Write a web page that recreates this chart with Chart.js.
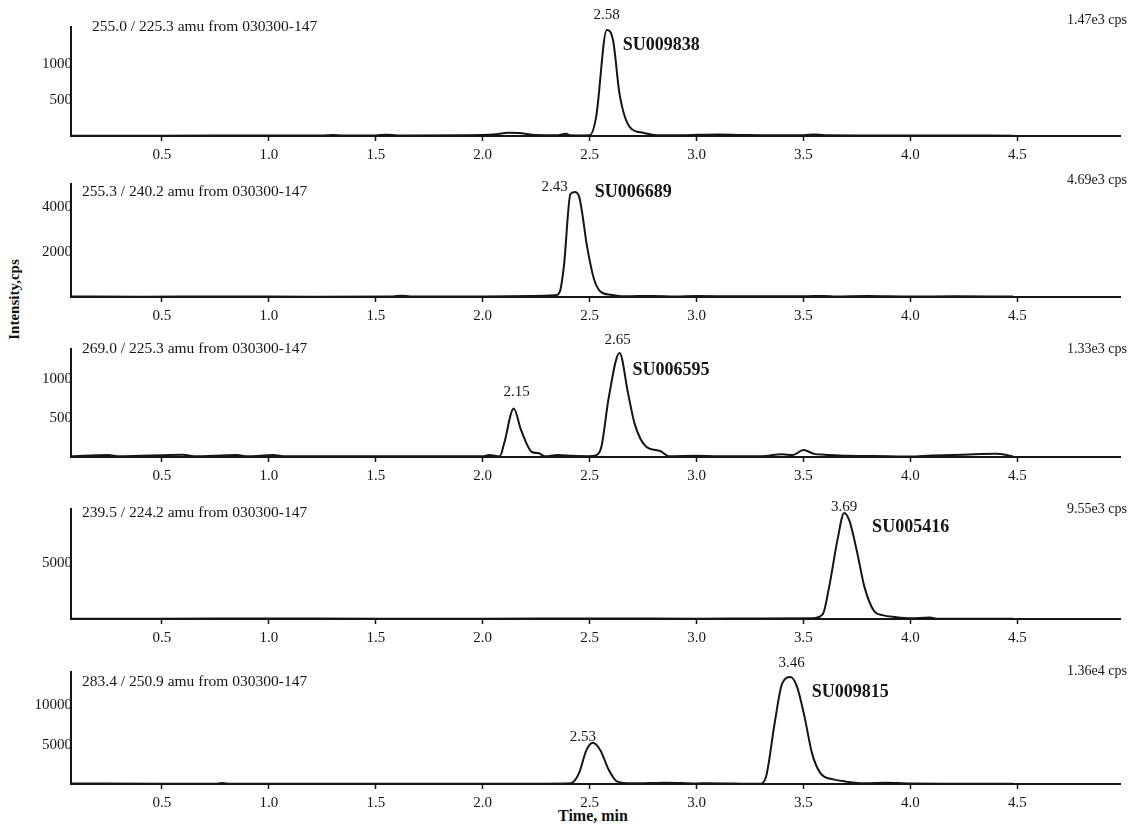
<!DOCTYPE html>
<html>
<head>
<meta charset="utf-8">
<script src="https://cdn.jsdelivr.net/npm/chart.js@4.4.1/dist/chart.umd.min.js"></script>
<style>
  body { margin: 0; background: #fff; }
  #wrap { position: relative; width: 1131px; height: 825px; overflow: hidden; }
  #wrap canvas { position: absolute; left: 0; }
  .lbl { position: absolute; font-family: "Liberation Serif", serif; font-weight: bold; color: #111; white-space: nowrap; }
</style>
</head>
<body>
<div id="wrap">
  <div class="lbl" style="left:-36px; top:291px; font-size:15px; transform: rotate(-90deg); width:100px; text-align:center;">Intensity,cps</div>
  <div class="lbl" style="left:558px; top:807px; font-size:16px;">Time, min</div>
</div>
<script>
// time axis (minutes)
let xTicks = [0.5, 1.0, 1.5, 2.0, 2.5, 3.0, 3.5, 4.0, 4.5];

// 255.0 / 225.3
let time1 = [0.075, 0.5, 1.0, 1.25, 1.3, 1.35, 1.5, 1.55, 1.6, 1.9, 2.05, 2.12, 2.17, 2.25, 2.35, 2.39, 2.41, 2.44, 2.50, 2.53, 2.58, 2.61, 2.64, 2.69, 2.75, 2.81, 2.95, 3.1, 3.2, 3.35, 3.5, 3.55, 3.6, 3.8, 4.0, 4.2, 4.48];
let cps1 = [5, 5, 8, 6, 15, 6, 8, 18, 8, 10, 20, 45, 40, 15, 12, 30, 10, 8, 10, 255, 1470, 1320, 580, 115, 45, 10, 12, 20, 15, 10, 12, 22, 10, 8, 6, 8, 5];
let yTicks1 = [500, 1000];

// 255.3 / 240.2
let time2 = [0.075, 0.4, 0.8, 1.2, 1.58, 1.62, 1.66, 2.0, 2.23, 2.34, 2.36, 2.38, 2.41, 2.43, 2.45, 2.49, 2.52, 2.55, 2.60, 2.66, 2.8, 2.9, 3.0, 3.2, 3.5, 3.6, 3.65, 3.8, 4.0, 4.2, 4.48];
let cps2 = [20, 15, 20, 15, 20, 60, 20, 20, 40, 75, 220, 1400, 4590, 4690, 4510, 2150, 815, 250, 100, 30, 50, 25, 40, 30, 30, 50, 25, 40, 20, 30, 20];
let yTicks2 = [2000, 4000];

// 269.0 / 225.3
let time3 = [0.075, 0.25, 0.3, 0.6, 0.65, 0.85, 0.9, 1.02, 1.08, 1.5, 1.8, 2.0, 2.03, 2.08, 2.10, 2.145, 2.18, 2.23, 2.26, 2.29, 2.35, 2.42, 2.49, 2.53, 2.555, 2.59, 2.64, 2.68, 2.71, 2.765, 2.83, 2.87, 3.0, 3.1, 3.3, 3.4, 3.45, 3.5, 3.55, 3.6, 3.7, 3.9, 4.0, 4.1, 4.2, 4.3, 4.4, 4.45, 4.48];
let cps3 = [10, 25, 10, 30, 10, 25, 10, 25, 10, 8, 10, 10, 25, 10, 170, 620, 340, 64, 50, 10, 25, 15, 10, 20, 130, 770, 1330, 810, 430, 130, 77, 10, 15, 10, 10, 35, 25, 90, 40, 30, 15, 10, 5, 20, 25, 35, 40, 25, 5];
let yTicks3 = [500, 1000];

// 239.5 / 224.2
let time4 = [0.075, 0.5, 1.0, 1.5, 2.0, 2.5, 3.0, 3.3, 3.54, 3.59, 3.62, 3.66, 3.69, 3.715, 3.75, 3.785, 3.83, 3.87, 3.93, 4.00, 4.09, 4.13, 4.3, 4.48];
let cps4 = [30, 30, 40, 30, 30, 40, 30, 40, 60, 430, 2890, 7230, 9550, 8830, 6080, 2890, 720, 350, 170, 60, 140, 20, 20, 20];
let yTicks4 = [5000];

// 283.4 / 250.9
let time5 = [0.075, 0.5, 0.75, 0.78, 0.82, 1.2, 1.6, 2.0, 2.3, 2.41, 2.45, 2.485, 2.515, 2.55, 2.59, 2.63, 2.70, 2.86, 3.0, 3.05, 3.295, 3.325, 3.365, 3.40, 3.44, 3.47, 3.505, 3.54, 3.58, 3.64, 3.70, 3.79, 3.885, 4.0, 4.2, 4.48];
let cps5 = [60, 40, 40, 120, 40, 40, 30, 30, 40, 85, 1350, 4300, 5240, 4300, 1770, 300, 85, 170, 60, 100, 20, 930, 7690, 12750, 13600, 12330, 8530, 3890, 1350, 590, 300, 85, 170, 60, 40, 40];
let yTicks5 = [5000, 10000];

let transitions = ["255.0 / 225.3 amu from 030300-147", "255.3 / 240.2 amu from 030300-147", "269.0 / 225.3 amu from 030300-147", "239.5 / 224.2 amu from 030300-147", "283.4 / 250.9 amu from 030300-147"];
let maxCps = ["1.47e3 cps", "4.69e3 cps", "1.33e3 cps", "9.55e3 cps", "1.36e4 cps"];
let compounds = ["SU009838", "SU006689", "SU006595", "SU005416", "SU009815"];

// panel layout (pixels)
let panels = [
  { t: time1, v: cps1, yt: yTicks1, yMax: 1510, axisTop: 27, plotH: 109, titleDx: 21, titleDy: 0, cpsDy: -7,
    notes: [{ t: 2.58, v: 1470, s: "2.58", dx: 0, dy: -15 }, { t: 2.58, v: 1470, s: compounds[0], dx: 16, dy: 15, bold: true }] },
  { t: time2, v: cps2, yt: yTicks2, yMax: 5050, axisTop: 184, plotH: 113, titleDx: 11, titleDy: 8, cpsDy: -4,
    notes: [{ t: 2.43, v: 4690, s: "2.43", dx: -20, dy: -5 }, { t: 2.43, v: 4690, s: compounds[1], dx: 20, dy: 0, bold: true }] },
  { t: time3, v: cps3, yt: yTicks3, yMax: 1380, axisTop: 349, plotH: 108, titleDx: 11, titleDy: 0, cpsDy: 0,
    notes: [{ t: 2.64, v: 1330, s: "2.65", dx: -2, dy: -13 }, { t: 2.64, v: 1330, s: compounds[2], dx: 13, dy: 17, bold: true },
            { t: 2.145, v: 620, s: "2.15", dx: 3, dy: -16 }] },
  { t: time4, v: cps4, yt: yTicks4, yMax: 9900, axisTop: 509, plotH: 110, titleDx: 11, titleDy: 4, cpsDy: 0,
    notes: [{ t: 3.69, v: 9550, s: "3.69", dx: 0, dy: -6 }, { t: 3.69, v: 9550, s: compounds[3], dx: 28, dy: 14, bold: true }] },
  { t: time5, v: cps5, yt: yTicks5, yMax: 14230, axisTop: 672, plotH: 112, titleDx: 11, titleDy: 10, cpsDy: -1,
    notes: [{ t: 3.44, v: 13600, s: "3.46", dx: 1, dy: -14 }, { t: 3.44, v: 13600, s: compounds[4], dx: 21, dy: 15, bold: true },
            { t: 2.515, v: 5240, s: "2.53", dx: -10, dy: -6 }] }
];

let serif = "'Liberation Serif', 'Times New Roman', serif";
let ink = "#151515";
let padTop = 25;

let notesPlugin = {
  id: "notes",
  afterDraw(chart) {
    let p = chart.options.plugins.notes;
    let ctx = chart.ctx;
    let area = chart.chartArea;
    let xs = chart.scales.x, ys = chart.scales.y;
    ctx.save();
    ctx.fillStyle = ink;
    ctx.textBaseline = "middle";
    ctx.font = "15.5px " + serif;
    ctx.textAlign = "left";
    ctx.fillText(p.title, area.left + p.titleDx, area.top + p.titleDy);
    ctx.font = "14px " + serif;
    ctx.textAlign = "right";
    ctx.fillText(p.cps, chart.width - 4, area.top + p.cpsDy);
    p.notes.forEach((n) => {
      let px = xs.getPixelForValue(n.t) + n.dx;
      let py = ys.getPixelForValue(n.v) + n.dy;
      if (n.bold) {
        ctx.font = "bold 18px " + serif;
        ctx.textAlign = "left";
      } else {
        ctx.font = "15px " + serif;
        ctx.textAlign = "center";
      }
      ctx.fillText(n.s, px, py);
    });
    ctx.restore();
  },
};

let wrap = document.getElementById("wrap");
panels.forEach((p, i) => {
  let cv = document.createElement("canvas");
  let h = padTop + p.plotH + 30;
  cv.width = 1131;
  cv.height = h;
  cv.style.top = (p.axisTop - padTop) + "px";
  wrap.appendChild(cv);

  new Chart(cv, {
    type: "line",
    data: {
      datasets: [{
        data: p.t.map((t, k) => ({ x: t, y: p.v[k] })),
        borderColor: ink,
        borderWidth: 2,
        pointRadius: 0,
        cubicInterpolationMode: "monotone",
        fill: false,
      }],
    },
    options: {
      responsive: false,
      animation: false,
      layout: { padding: { top: padTop, right: 11, left: 0, bottom: 0 } },
      scales: {
        x: {
          type: "linear",
          min: 0.075,
          max: 4.98,
          afterBuildTicks: (s) => { s.ticks = xTicks.map((v) => ({ value: v })); },
          afterFit: (s) => { s.height = 30; },
          grid: { drawOnChartArea: false, drawTicks: true, tickLength: 5, tickWidth: 1.5, tickColor: ink },
          border: { display: true, color: ink, width: 2 },
          ticks: { color: ink, padding: 5, font: { family: serif, size: 15 }, maxRotation: 0,
                   callback: (v) => v.toFixed(1) },
        },
        y: {
          type: "linear",
          min: 0,
          max: p.yMax,
          afterBuildTicks: (s) => { s.ticks = p.yt.map((v) => ({ value: v })); },
          afterFit: (s) => { s.width = 71; },
          grid: { drawOnChartArea: false, drawTicks: false },
          border: { display: true, color: ink, width: 2 },
          ticks: { color: ink, padding: -1, font: { family: serif, size: 15 }, callback: (v) => String(v) },
        },
      },
      plugins: {
        legend: { display: false },
        tooltip: { enabled: false },
        notes: { title: transitions[i], cps: maxCps[i], titleDx: p.titleDx, titleDy: p.titleDy, cpsDy: p.cpsDy, notes: p.notes },
      },
    },
    plugins: [notesPlugin],
  });
});
</script>
</body>
</html>
